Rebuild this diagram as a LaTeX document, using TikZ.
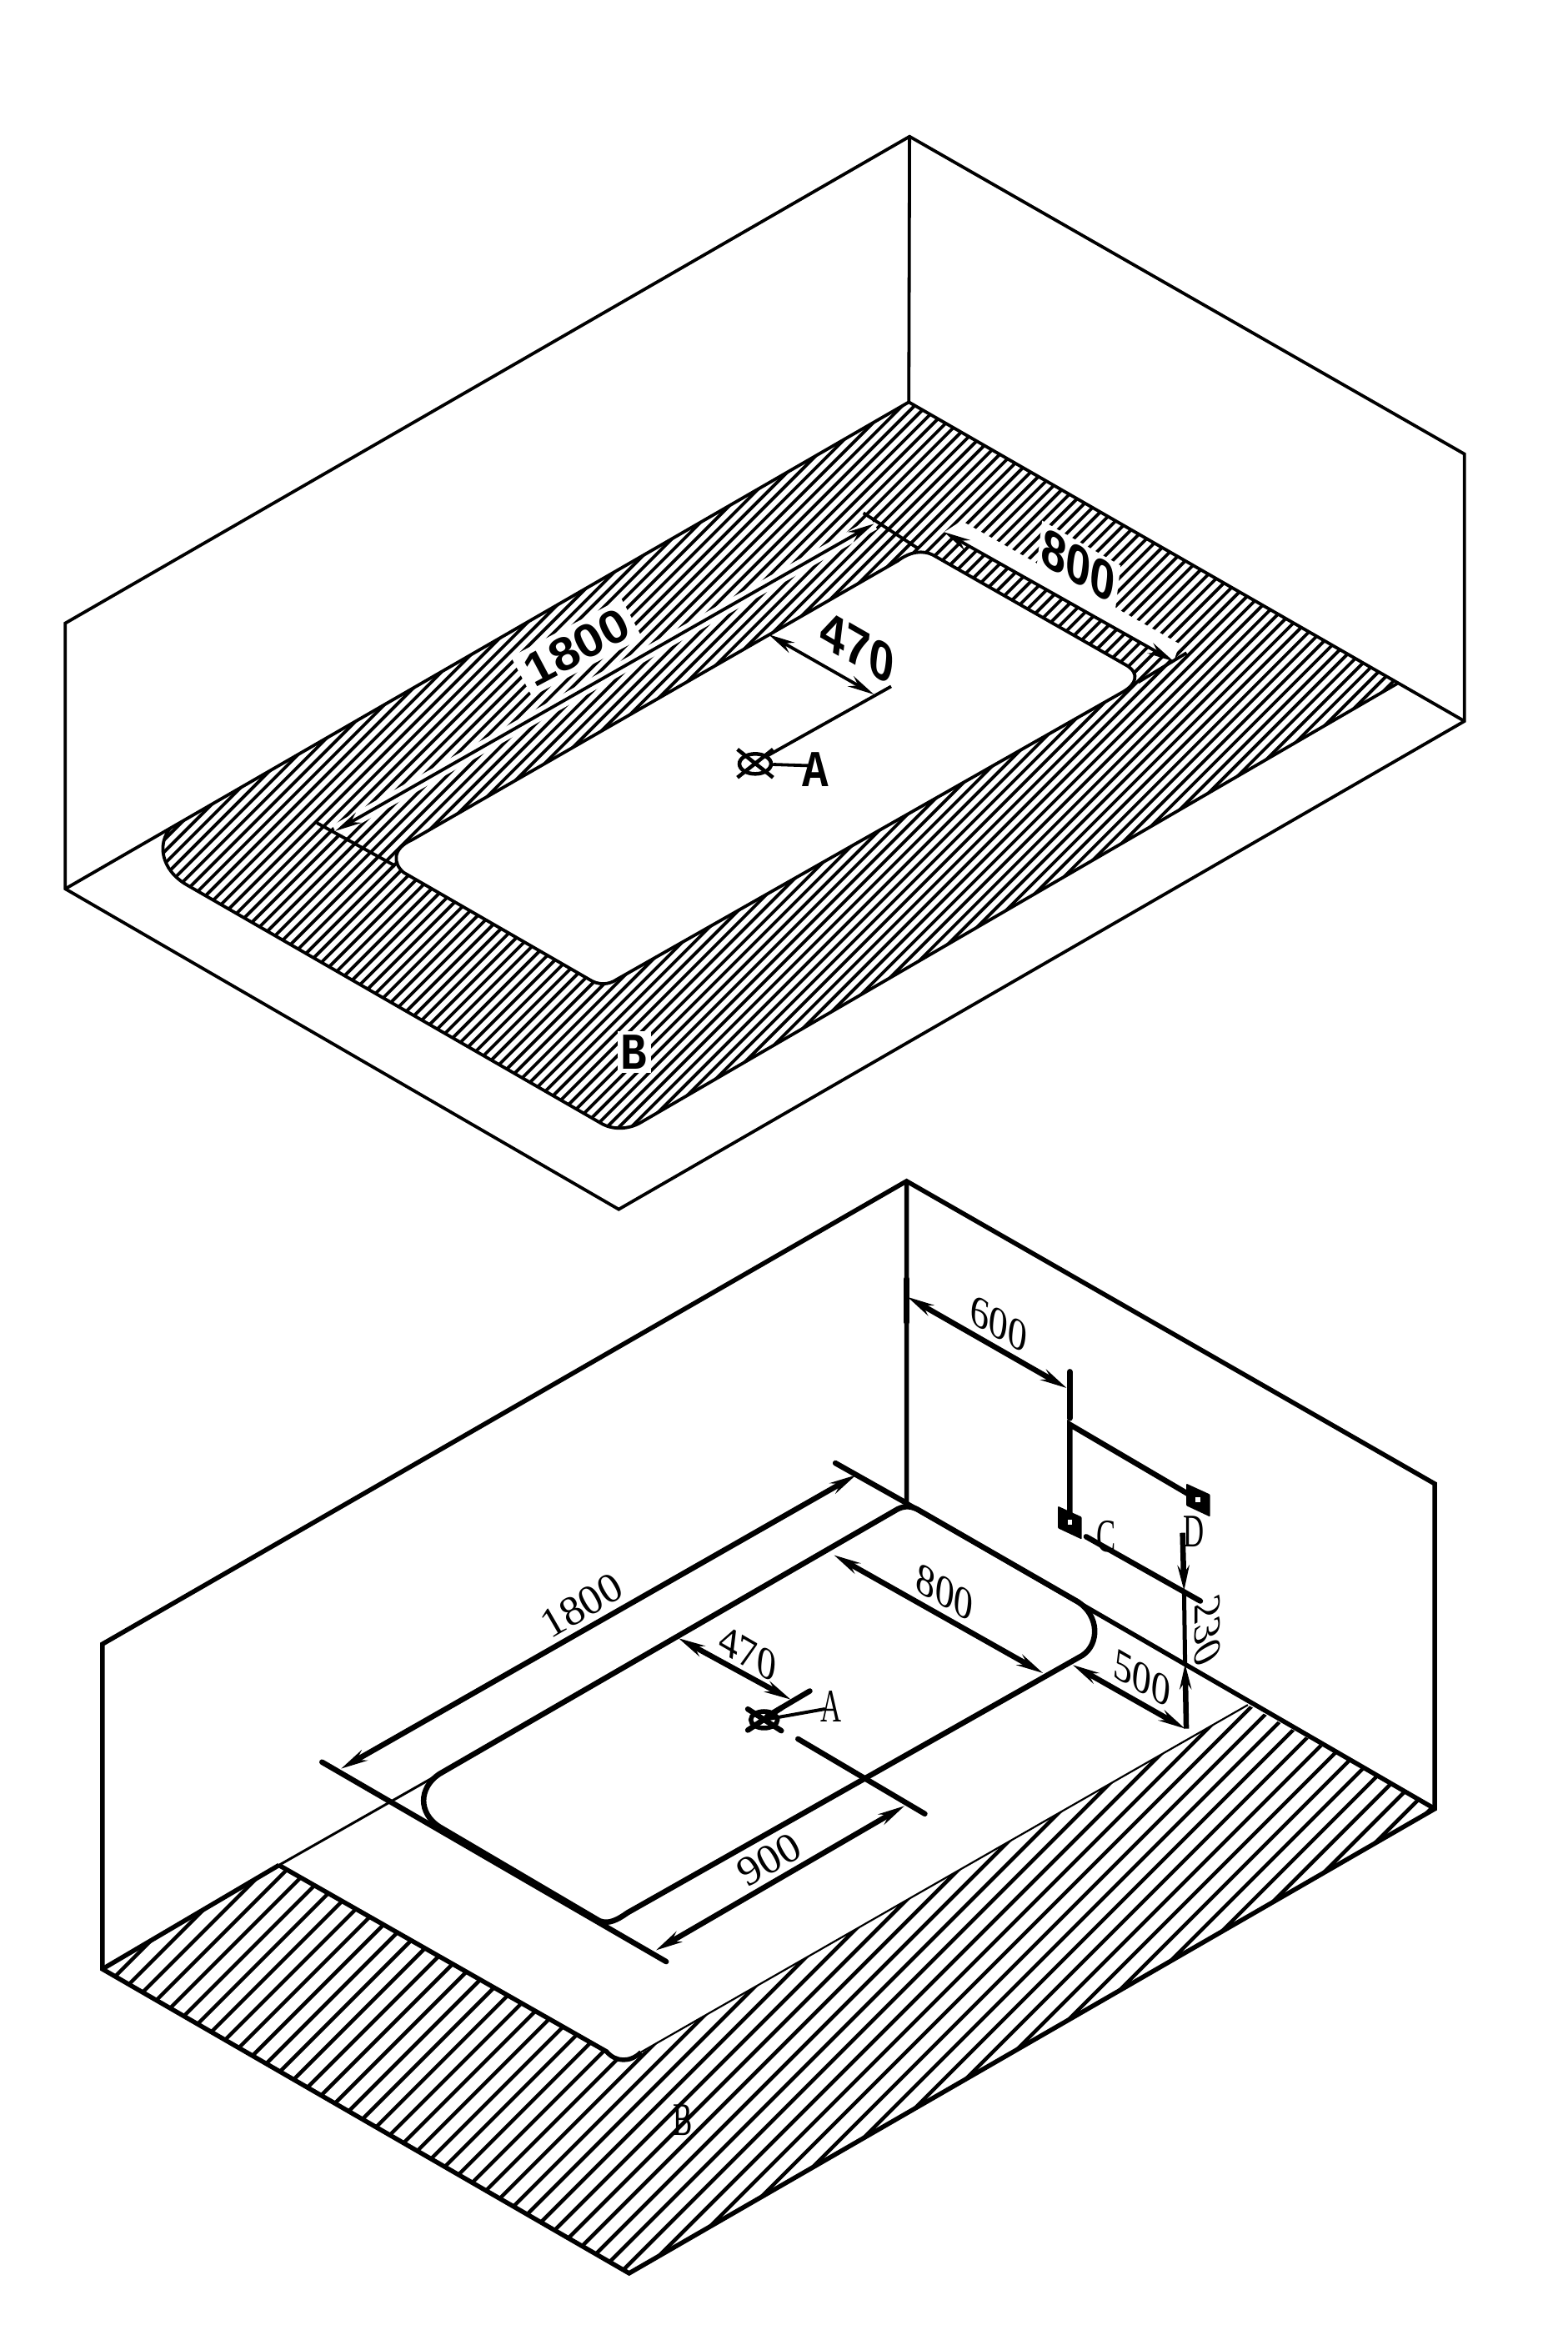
\documentclass[tikz,border=0pt]{standalone}
\usepackage{fontspec}
\setmainfont{Liberation Serif}
\newfontfamily\dimfont{Liberation Sans}
\newfontfamily\slabfont{Liberation Mono}
\usetikzlibrary{arrows.meta,shapes.geometric}

\begin{document}
\begin{tikzpicture}[
    x=1.78pt, y=-1.78pt,
    wall/.style={line width=3.8pt, line join=miter},
    wallB/.style={line width=5.5pt, line join=miter},
    tubB/.style={line width=6.5pt, line join=round},
    hatch/.style={line width=3.8pt},
    hatchB/.style={line width=4.5pt},
    dimarrow/.style={{Stealth[length=32pt,width=14pt]}-{Stealth[length=32pt,width=14pt]}, line width=3.8pt},
    dimarrowB/.style={{Stealth[length=32pt,width=14pt]}-{Stealth[length=32pt,width=14pt]}, line width=6.5pt},
    extline/.style={line width=3.8pt},
    extlineB/.style={line width=6.5pt, line cap=round},
    boldup/.style={transform shape, rotate=28, xscale=1.08, font=\dimfont\bfseries\fontsize{56}{56}\selectfont, inner sep=7pt},
    bolddown/.style={transform shape, cm={.82,-.47,.12,1.0,(0,0)}, font=\dimfont\bfseries\fontsize{64}{64}\selectfont, inner sep=4pt},
    thinup/.style={transform shape, rotate=30, xscale=1.05, font=\fontsize{50}{50}\selectfont, inner sep=0pt},
    thindown/.style={transform shape, cm={.866,-.5,.12,1.0,(0,0)}, font=\fontsize{52}{52}\selectfont, inner sep=0pt},
    slab/.style={transform shape, xscale=.85, font=\slabfont\bfseries\fontsize{62}{62}\selectfont, inner sep=0pt},
    thinletter/.style={transform shape, xscale=.62, font=\fontsize{56}{56}\selectfont, inner sep=0pt}
]
\useasboundingbox (0,0) rectangle (1056.7,1566.9);

% Top hatching
\begin{scope}
\clip (612.5,271) -- (941.6,460.7) -- (431.6,756.6) .. controls (424,761) and (413,762) .. (404.4,756.6)
    -- (126,596.4) .. controls (108,586) and (106,568) .. (115,558) -- cycle;
\foreach \k in {-42,...,54}
    \draw[hatch] ({980+8.2*\k},0) -- ++(-1700,1700);
\end{scope}

% Top halos
\coordinate (topLenA) at (226,560);
\coordinate (topLenB) at (589,353);
\coordinate (topWidA) at (636.3,358.6);
\coordinate (topWidB) at (791,445.7);
\draw[white, line width=15pt] (topLenA) -- (topLenB);
\fill[white] (topWidA) -- (648,351) -- (795,434) -- (topWidB) -- cycle;
\node[boldup, fill=white] (topLenText) at (388.6,436.3) {1800};
\node[bolddown, fill=white] (topWidText) at (727,381) {800};
\node[slab, fill=white, inner sep=5pt] (topB) at (427.4,709) {B};

% Top tub
\draw[wall, fill=white] (605,378) .. controls (613,372) and (622,370) .. (630,374.7) -- (759.6,448.6)
    .. controls (768,454) and (766,461) .. (756.8,466.3) -- (415.8,660)
    .. controls (410,664) and (403,664) .. (397,660) -- (272,588)
    .. controls (265,582) and (264,572) .. (277.7,566) -- cycle;

% Top box
\draw[wall] (44,420) -- (613,92) -- (987,306) -- (987,486) -- (417,815) -- (44,599) -- cycle;
\draw[wall] (613,92) -- (612.5,271);
\draw[wall] (987,486) -- (612.5,271) -- (44,599);
\draw[wall] (941.6,460.7) -- (431.6,756.6) .. controls (424,761) and (413,762) .. (404.4,756.6)
    -- (126,596.4) .. controls (108,586) and (106,568) .. (115,558);

% Top dimensions
\draw[extline] (213.6,554.6) -- (266.5,583.6);
\draw[extline] (581.9,345.7) -- (619,369.8);
\draw[extline] (799.7,440) -- (767,459.8);
\draw[extline] (600.6,462.6) -- (516,510);
\draw[dimarrow] (topLenA) -- (topLenB);
\draw[dimarrow] (topWidA) -- (topWidB);
\coordinate (topDrainA) at (518,427.6);
\coordinate (topDrainB) at (589,468);
\draw[dimarrow] (topDrainA) -- (topDrainB);
\node[bolddown] (topDrainText) at (578,436) {470};

% Top drain
\node[draw, ellipse, line width=4.5pt, minimum width=38pt, minimum height=24pt, inner sep=0pt] (topDrain) at (509,514.8) {};
\draw[extline, line width=4.5pt] (497,505) -- (521,524);
\draw[extline, line width=4.5pt] (497,524) -- (521,505);
\node[slab] (topA) at (549.6,518.8) {A};
\draw[extline] (topDrain) -- (545.5,516);

% Bottom hatching
\begin{scope}
\clip (69,1327) -- (188,1257) -- (408.8,1382.6) .. controls (415,1390) and (425,1390) .. (441,1378)
    -- (841,1149) -- (967,1219) -- (424,1532) -- cycle;
\foreach \k in {-35,...,21}
    \draw[hatchB] ({1891.4+14.6*\k},0) -- ++(-1700,1700);
\end{scope}

% Bottom box
\draw[wallB] (69,1108) -- (611,796) -- (967,1000) -- (967,1219) -- (424,1532) -- (69,1327) -- cycle;
\draw[wallB] (611,796) -- (611,1013) -- (967,1219);
\draw[wallB] (188,1257) -- (69,1327);
\draw[line width=3pt] (296,1195.6) -- (188,1257);
\draw[wallB] (188,1257) -- (408.8,1382.6) .. controls (415,1390) and (425,1390) .. (432,1383);
\draw[line width=2.2pt] (432,1383) -- (841,1149);

% Bottom tub
\draw[tubB] (605,1017) .. controls (610,1014.5) and (615,1015) .. (620,1018.2) -- (726.5,1079.5)
    .. controls (741,1089) and (741,1108) .. (729.5,1115.6) -- (423,1289)
    .. controls (416,1294) and (410,1297) .. (404,1294.5) -- (296,1231)
    .. controls (282,1222) and (282,1205) .. (296,1195.6) -- cycle;

% Bottom dimensions
\draw[extlineB] (217,1187.5) -- (449,1322);
\draw[extlineB] (563,986) -- (611,1013);
\draw[extlineB] (537.8,1171.9) -- (623.3,1222.4);
\draw[extlineB] (545.8,1139.6) -- (516.9,1156.7);
\draw[extlineB, line width=7pt] (611,862) -- (611,891);
\draw[extlineB, line width=7pt] (721,924.5) -- (721,955.7);
\coordinate (lenA) at (229.8,1192);
\coordinate (lenB) at (577,994);
\coordinate (widA) at (562,1048);
\coordinate (widB) at (703,1127.6);
\coordinate (drainA) at (457.2,1104);
\coordinate (drainB) at (533,1145.4);
\coordinate (sideA) at (442,1314.4);
\coordinate (sideB) at (609.7,1217);
\coordinate (edgeA) at (611.5,874);
\coordinate (edgeB) at (719,935.5);
\coordinate (gapA) at (722.9,1122);
\coordinate (gapB) at (798.7,1165);
\draw[dimarrowB] (lenA) -- (lenB);
\draw[dimarrowB] (widA) -- (widB);
\draw[dimarrowB] (drainA) -- (drainB);
\draw[dimarrowB] (sideA) -- (sideB);
\draw[dimarrowB] (edgeA) -- (edgeB);
\draw[dimarrowB] (gapA) -- (gapB);
\node[thinup] (lenText) at (392,1082) {1800};
\node[thindown] (widText) at (636.7,1073) {800};
\node[thindown] (drainText) at (504,1113.8) {470};
\node[thinup] (sideText) at (518.4,1253.4) {900};
\node[thindown] (edgeText) at (673,892.4) {600};
\node[thindown] (gapText) at (769.7,1131) {500};

% Bottom drain
\node[draw, ellipse, line width=5.5pt, minimum width=32pt, minimum height=20pt, inner sep=0pt] (drain) at (515,1159) {};
\draw[extlineB] (504,1151.8) -- (526.6,1166.4);
\draw[extlineB] (504,1166) -- (526.6,1151);
\draw[extlineB, line width=4pt] (drain.center) -- (555.6,1151.8);
\node[thinletter] (lblA) at (560.4,1150.3) {A};
\node[thinletter] (lblB) at (460.4,1429) {B};

% Outlets
\coordinate (outC) at (721,1026);
\coordinate (outD) at (807.5,1010.8);
\coordinate (pipeTop) at (721,960);
\draw[extlineB] (outC) -- (pipeTop) -- (outD);
\foreach \o in {outC,outD} {
    \fill[rounded corners=1pt] ([shift={(-8,-11)}]\o) -- ([shift={(8,-3.7)}]\o) -- ([shift={(8,11.4)}]\o) -- ([shift={(-8,3.9)}]\o) -- cycle;
    \fill[white] ([shift={(-1.6,-1.6)}]\o) rectangle ([shift={(1.6,1.6)}]\o);
}
\node[thinletter] (lblC) at (745.3,1035.3) {C};
\node[thinletter] (lblD) at (804.3,1032) {D};

% Height 230
\coordinate (floorPt) at (798.7,1121.4);
\draw[extlineB] (732,1035.6) -- (809,1079);
\draw[-{Stealth[length=30pt,width=14pt]}, line width=6.5pt] (797,1033) -- (798,1072);
\draw[line width=5pt] (798,1072) -- (floorPt);
\draw[-{Stealth[length=30pt,width=14pt]}, line width=6.5pt] (799.5,1165) -- (floorPt);
\node[transform shape, cm={0,-1,.88,.47,(0,0)}, font=\fontsize{52}{52}\selectfont, inner sep=0pt] (heightText) at (813.6,1099) {230};

\end{tikzpicture}
\end{document}
